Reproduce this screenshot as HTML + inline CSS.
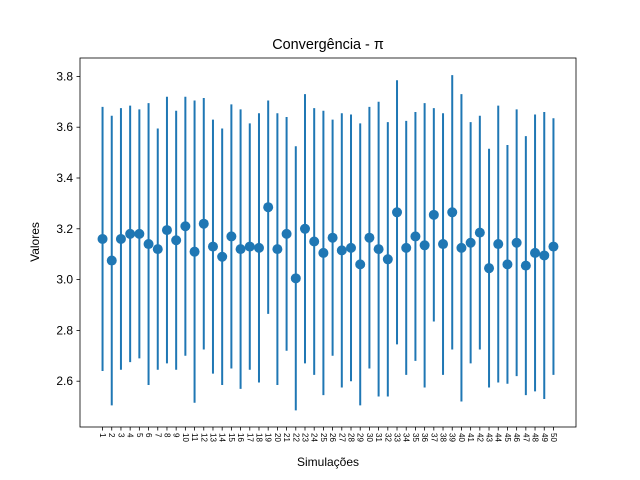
<!DOCTYPE html>
<html><head><meta charset="utf-8"><style>
body{margin:0;background:#fff}
svg{display:block;font-family:"Liberation Sans","DejaVu Sans",sans-serif}
</style></head><body>
<svg id="chart" width="640" height="480" viewBox="0 0 640 480" xmlns="http://www.w3.org/2000/svg">
<rect width="640" height="480" fill="#fff"/>
<text x="328" y="49" text-anchor="middle" font-size="14.4">Convergência - π</text>
<text x="328" y="466" text-anchor="middle" font-size="12">Simulações</text>
<text transform="translate(39,242) rotate(-90)" text-anchor="middle" font-size="12">Valores</text>
<g id="marks"></g>
<rect x="80" y="58" width="496" height="369" fill="none" stroke="#000" stroke-width="0.8"/>
</svg>
<script>
const values=[3.16,3.075,3.16,3.18,3.18,3.14,3.12,3.195,3.155,3.21,3.11,3.22,3.13,3.09,3.17,3.12,3.13,3.125,3.285,3.12,3.18,3.005,3.2,3.15,3.105,3.165,3.115,3.125,3.06,3.165,3.12,3.08,3.265,3.125,3.17,3.135,3.255,3.14,3.265,3.125,3.145,3.185,3.045,3.14,3.06,3.145,3.055,3.105,3.095,3.13];
const errors=[0.52,0.57,0.515,0.505,0.49,0.555,0.475,0.525,0.51,0.51,0.595,0.495,0.5,0.505,0.52,0.55,0.485,0.53,0.42,0.535,0.46,0.52,0.53,0.525,0.56,0.465,0.54,0.525,0.555,0.515,0.58,0.54,0.52,0.5,0.49,0.56,0.42,0.515,0.54,0.605,0.475,0.46,0.47,0.545,0.47,0.525,0.51,0.545,0.565,0.505];
const yTicks=[2.6,2.8,3.0,3.2,3.4,3.6,3.8];
const NS="http://www.w3.org/2000/svg";
const g=document.getElementById('marks');
const xS=n=>80+(n-1+2.45)*(496/53.9);
const yS=v=>279.6-(v-3.0)*254;
function mk(t,a){const e=document.createElementNS(NS,t);for(const k in a)e.setAttribute(k,a[k]);g.appendChild(e);return e;}
yTicks.forEach(v=>{
  const y=yS(v);
  const t=mk('line',{x1:76.5,x2:80,y1:y,y2:y,stroke:'#000','stroke-width':0.8});
  
  
  const l=mk('text',{x:73,y:y+4,'text-anchor':'end','font-size':12});
  
  
  l.textContent=v.toFixed(1);
});
values.forEach((v,i)=>{
  const x=xS(i+1),e=errors[i];
  const b=mk('line',{x1:x,x2:x,y1:yS(v+e),y2:yS(v-e),stroke:'#1f77b4','stroke-width':2});
  
  
  const c=mk('circle',{cx:x,cy:yS(v),r:5,fill:'#1f77b4'});
  
  
  const t=mk('line',{x1:x,x2:x,y1:427,y2:430.5,stroke:'#000','stroke-width':0.8});
  
  
  const l=mk('text',{transform:`translate(${x-2.5},433) rotate(90)`,'font-size':8});
  
  
  l.textContent=String(i+1);
});
</script>
</body></html>
